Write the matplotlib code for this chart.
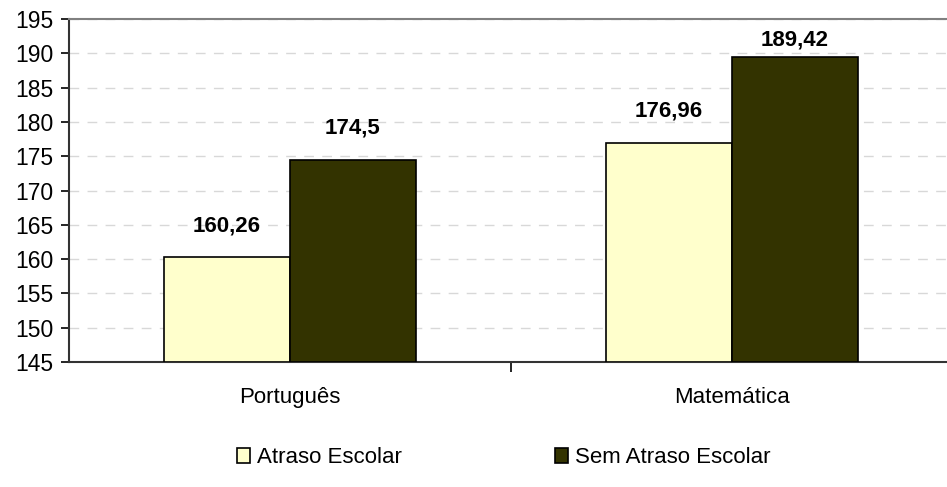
import numpy as np
import matplotlib
matplotlib.use("Agg")
import matplotlib.pyplot as plt

plt.rcParams["font.family"] = ["Liberation Sans", "DejaVu Sans"]

categories = ["Português", "Matemática"]
series_names = ["Atraso Escolar", "Sem Atraso Escolar"]
atraso = [160.26, 176.96]
sem_atraso = [174.5, 189.42]
value_labels = [["160,26", "176,96"], ["174,5", "189,42"]]
colors = ["#FFFFCC", "#333300"]

fig = plt.figure(figsize=(9.47, 4.87), dpi=100)
ax = fig.add_axes([69 / 947, 1 - 362 / 487, 884 / 947, (362 - 19) / 487])

x = np.arange(len(categories))
w = 0.285
for i, (vals, col) in enumerate(zip([atraso, sem_atraso], colors)):
    pos = x + (i - 0.5) * w
    ax.bar(pos, [v - 145 for v in vals], w, bottom=145, color=col,
           edgecolor="black", linewidth=1.2, label=series_names[i], zorder=3)
    for p, v, lab in zip(pos, vals, value_labels[i]):
        ax.text(p, min(v + 4.6, 191.9), lab, ha="center", va="center",
                fontsize=16, fontweight="bold", zorder=4)

ax.set_xlim(-0.5, 1.5)
ax.set_ylim(145, 195)
ax.set_yticks(np.arange(145, 196, 5))
ax.set_xticks(x)
ax.set_xticklabels(categories)
ax.set_xticks([0.5], minor=True)
ax.tick_params(axis="x", which="major", length=0, pad=18, labelsize=16)
ax.tick_params(axis="x", which="minor", length=7, width=1.2, color="black")
ax.tick_params(axis="y", length=6, width=1.2, labelsize=16.5, pad=5)

ax.yaxis.grid(True, linestyle=(0, (7, 6)), color="#d8d8d8", linewidth=1, zorder=0)
ax.spines["right"].set_visible(False)
ax.spines["top"].set_color("#808080")
ax.spines["top"].set_linewidth(1.5)
for s in ["left", "bottom"]:
    ax.spines[s].set_color("#333333")
    ax.spines[s].set_linewidth(1.5)

fig.legend(loc="center", bbox_to_anchor=(0.532, 0.06), ncol=2, frameon=False,
           fontsize=16, handlelength=0.6, handleheight=0.6, handletextpad=0.3,
           columnspacing=6.9)

fig.savefig("out.png", dpi=100)
